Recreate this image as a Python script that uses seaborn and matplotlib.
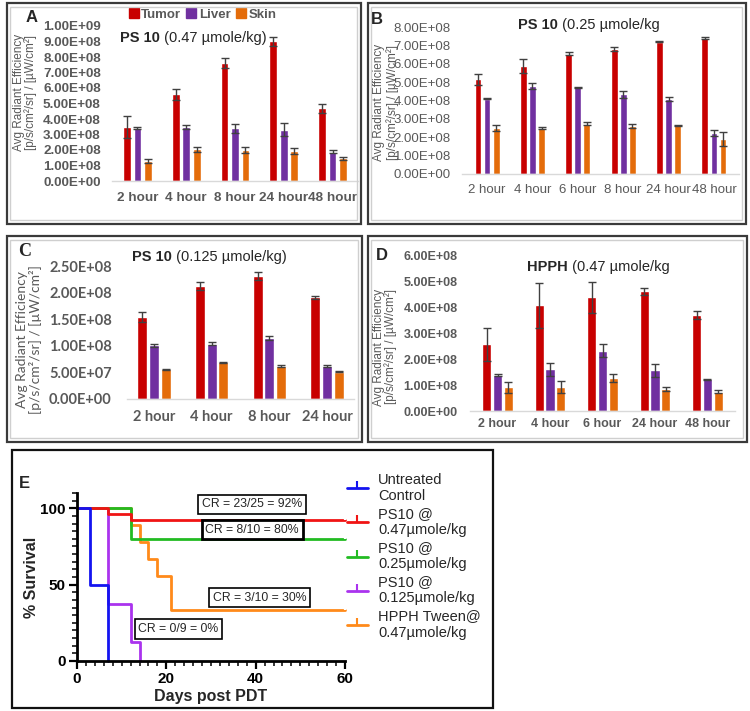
import numpy as np
import pandas as pd
import matplotlib
matplotlib.use("Agg")
import matplotlib.pyplot as plt
from matplotlib.lines import Line2D
from matplotlib.patches import Rectangle
from matplotlib.text import Annotation
from matplotlib.ticker import FuncFormatter, MultipleLocator
import seaborn as sns

sns.set_theme(style="white")
plt.rcParams['font.family'] = ['Liberation Sans', 'DejaVu Sans']

# ---------------- data ----------------
tissues = ["Tumor", "Liver", "Skin"]
tissue_colors = ["#C80000", "#7030A0", "#E46C0A"]

# A: PS 10 (0.47 umole/kg)
hours_a = ["2 hour", "4 hour", "8 hour", "24 hour", "48 hour"]
tumor_a = [3.50e8, 5.60e8, 7.62e8, 9.01e8, 4.68e8]
tumor_a_err = [0.70e8, 0.35e8, 0.32e8, 0.28e8, 0.28e8]
liver_a = [3.43e8, 3.48e8, 3.39e8, 3.30e8, 1.89e8]
liver_a_err = [0.08e8, 0.15e8, 0.30e8, 0.42e8, 0.10e8]
skin_a = [1.29e8, 2.04e8, 2.00e8, 1.91e8, 1.46e8]
skin_a_err = [0.15e8, 0.15e8, 0.20e8, 0.20e8, 0.10e8]

# B: PS 10 (0.25 umole/kg)
hours_b = ["2 hour", "4 hour", "6 hour", "8 hour", "24 hour", "48 hour"]
tumor_b = [5.16e8, 5.88e8, 6.55e8, 6.82e8, 7.20e8, 7.38e8]
tumor_b_err = [0.30e8, 0.36e8, 0.10e8, 0.10e8, 0.03e8, 0.05e8]
liver_b = [4.10e8, 4.80e8, 4.71e8, 4.33e8, 4.10e8, 2.22e8]
liver_b_err = [0.03e8, 0.16e8, 0.05e8, 0.20e8, 0.10e8, 0.15e8]
skin_b = [2.49e8, 2.49e8, 2.73e8, 2.62e8, 2.64e8, 1.90e8]
skin_b_err = [0.15e8, 0.05e8, 0.08e8, 0.10e8, 0.04e8, 0.39e8]

# C: PS 10 (0.125 umole/kg)
hours_c = ["2 hour", "4 hour", "8 hour", "24 hour"]
tumor_c = [1.54e8, 2.125e8, 2.31e8, 1.91e8]
tumor_c_err = [0.09e8, 0.07e8, 0.07e8, 0.03e8]
liver_c = [1.01e8, 1.04e8, 1.15e8, 0.625e8]
liver_c_err = [0.03e8, 0.03e8, 0.04e8, 0.02e8]
skin_c = [0.556e8, 0.69e8, 0.625e8, 0.51e8]
skin_c_err = [0.01e8, 0.01e8, 0.02e8, 0.01e8]

# D: HPPH (0.47 umole/kg)
hours_d = ["2 hour", "4 hour", "6 hour", "24 hour", "48 hour"]
tumor_d = [2.56e8, 4.06e8, 4.37e8, 4.60e8, 3.68e8]
tumor_d_err = [0.63e8, 0.85e8, 0.59e8, 0.15e8, 0.15e8]
liver_d = [1.38e8, 1.60e8, 2.31e8, 1.56e8, 1.22e8]
liver_d_err = [0.05e8, 0.26e8, 0.25e8, 0.24e8, 0.01e8]
skin_d = [0.91e8, 0.94e8, 1.27e8, 0.85e8, 0.74e8]
skin_d_err = [0.22e8, 0.23e8, 0.17e8, 0.07e8, 0.05e8]

# E: survival (Kaplan-Meier steps)
ctrl_days = [0, 3, 7]
ctrl_surv = [100, 50, 0]
ps047_days = [0, 7, 12, 60]
ps047_surv = [100, 96, 92, 92]
ps025_days = [0, 12, 60]
ps025_surv = [100, 80, 80]
ps0125_days = [0, 7, 12, 14]
ps0125_surv = [100, 37.5, 12.5, 0]
hpph_days = [0, 12, 14, 16, 18, 21, 60]
hpph_surv = [100, 88.9, 77.8, 66.7, 55.6, 33.3, 33.3]
surv_labels = ["Untreated\nControl", "PS10 @\n0.47µmole/kg", "PS10 @\n0.25µmole/kg",
               "PS10 @\n0.125µmole/kg", "HPPH Tween@\n0.47µmole/kg"]
surv_colors = ["#1414F0", "#F01414", "#22BB22", "#AA33EE", "#FF8A1A"]

GRAY = "#595959"
W, H = 750, 711


def rect(x0, y0, x1, y1):
    return [x0 / W, 1 - y1 / H, (x1 - x0) / W, (y1 - y0) / H]


def box(fig, x0, y0, x1, y1, color, lw):
    fig.add_artist(Rectangle((x0 / W, 1 - y1 / H), (x1 - x0) / W, (y1 - y0) / H,
                             transform=fig.transFigure, fill=False, ec=color, lw=lw))


def ftext(fig, x, y, s, **kw):
    return fig.text(x / W, 1 - y / H, s, **kw)


def two_part_title(fig, x, y, bold, rest, size=10.5):
    t = ftext(fig, x, y, bold, fontsize=size, fontweight="bold", va="center", ha="left")
    fig.add_artist(Annotation(rest, xy=(1, 0), xycoords=t, va="bottom", ha="left",
                              fontsize=size))


def bar_panel(ax, hours, tumor, liver, skin, errs, ymax, step, width, gap,
              tick_size, tick_bold, xpad, ypad, family=None):
    df = pd.DataFrame({
        "time": hours * 3,
        "tissue": [t for t in tissues for _ in hours],
        "value": tumor + liver + skin,
    })
    sns.barplot(data=df, x="time", y="value", hue="tissue", order=hours,
                hue_order=tissues, palette=tissue_colors, saturation=1,
                width=width, gap=gap, errorbar=None, legend=False, ax=ax)
    for cont, err in zip(ax.containers, errs):
        xs = [p.get_x() + p.get_width() / 2 for p in cont.patches]
        hs = [p.get_height() for p in cont.patches]
        ax.errorbar(xs, hs, yerr=err, fmt="none", ecolor="#404040",
                    elinewidth=1, capsize=3, capthick=1)
    ax.set_ylim(0, ymax)
    ax.set_yticks(np.arange(0, ymax + step / 2, step))
    ax.yaxis.set_major_formatter(FuncFormatter(lambda v, p: f"{v:.2E}"))
    ax.set_xlabel("")
    ax.set_ylabel("")
    for s in ["left", "top", "right"]:
        ax.spines[s].set_visible(False)
    ax.spines["bottom"].set_color("#d9d9d9")
    ax.spines["bottom"].set_linewidth(1)
    ax.tick_params(axis="both", length=0, colors=GRAY, labelsize=tick_size)
    ax.tick_params(axis="x", pad=xpad)
    ax.tick_params(axis="y", pad=ypad)
    for lbl in ax.get_xticklabels() + ax.get_yticklabels():
        if tick_bold:
            lbl.set_fontweight("bold")
        if family:
            lbl.set_family(family)
    ax.set_facecolor("none")


fig = plt.figure(figsize=(7.5, 7.11), dpi=100)

# panel frames
for x0, y0, x1, y1 in [(7, 3, 361, 224), (368, 3, 746, 224),
                       (7, 236, 362, 442), (368, 236, 747, 442)]:
    box(fig, x0, y0, x1, y1, "#3a3a3a", 1.6)
    box(fig, x0 + 3, y0 + 4, x1 - 4, y1 - 4, "#cfcfcf", 1.0)
box(fig, 12, 450, 493, 708, "#111111", 1.6)

# ---- A ----
ax_a = fig.add_axes(rect(112, 26, 358, 181))
bar_panel(ax_a, hours_a, tumor_a, liver_a, skin_a, [tumor_a_err, liver_a_err, skin_a_err],
          1e9, 1e8, 0.64, 0.25, 9.7, True, 8, 8)
handles = [Line2D([], [], marker="s", ls="none", color=c, markersize=7, label=l)
           for c, l in zip(tissue_colors, tissues)]
ax_a.legend(handles=handles, ncol=3, loc="center", bbox_to_anchor=(0.37, 1.071),
            frameon=False, handlelength=0.6, handletextpad=0.25, columnspacing=0.5,
            borderpad=0, prop={"weight": "bold", "size": 9.5}, labelcolor=GRAY)
ftext(fig, 32, 17, "A", fontsize=12, fontweight="bold", ha="center", va="center")
two_part_title(fig, 120, 38, "PS 10", " (0.47 µmole/kg)")
ftext(fig, 25, 92, "Avg Radiant Efficiency\n[p/s/cm²/sr] / [µW/cm²]", fontsize=8.5,
      color=GRAY, rotation=90, ha="center", va="center", linespacing=1.0)

# ---- B ----
ax_b = fig.add_axes(rect(462, 27, 739, 174))
bar_panel(ax_b, hours_b, tumor_b, liver_b, skin_b, [tumor_b_err, liver_b_err, skin_b_err],
          8e8, 1e8, 0.6, 0.25, 9.5, False, 7, 8)
ftext(fig, 377, 20, "B", fontsize=12, fontweight="bold", ha="center", va="center")
two_part_title(fig, 518, 25, "PS 10", " (0.25 µmole/kg")
ftext(fig, 386, 102, "Avg Radiant Efficiency\n[p/s/cm²/sr] / [µW/cm²]", fontsize=8.5,
      color=GRAY, rotation=90, ha="center", va="center", linespacing=1.1)

# ---- C ----
ax_c = fig.add_axes(rect(127, 266, 354, 399))
bar_panel(ax_c, hours_c, tumor_c, liver_c, skin_c, [tumor_c_err, liver_c_err, skin_c_err],
          2.5e8, 5e7, 0.61, 0.15, 10.5, True, 8, 11, family="Lato")
ftext(fig, 25, 252, "C", fontsize=13, fontweight="bold", family="Liberation Serif",
      ha="center", va="center")
two_part_title(fig, 132, 257, "PS 10", " (0.125 µmole/kg)")
ftext(fig, 29, 340, "Avg Radiant Efficiency\n[p/s/cm²/sr] / [µW/cm²]", fontsize=10,
      family="Lato", color=GRAY, rotation=90, ha="center", va="center", linespacing=1.05)

# ---- D ----
ax_d = fig.add_axes(rect(470, 255, 735, 411))
bar_panel(ax_d, hours_d, tumor_d, liver_d, skin_d, [tumor_d_err, liver_d_err, skin_d_err],
          6e8, 1e8, 0.62, 0.15, 9, True, 5, 9)
ftext(fig, 382, 255, "D", fontsize=12, fontweight="bold", ha="center", va="center")
two_part_title(fig, 527, 267, "HPPH", " (0.47 µmole/kg")
ftext(fig, 385, 347, "Avg Radiant Efficiency\n[p/s/cm²/sr] / [µW/cm²]", fontsize=8.5,
      color=GRAY, rotation=90, ha="center", va="center", linespacing=1.0)

# ---- E ----
ax_e = fig.add_axes(rect(77, 493, 345, 661))
groups = [(hpph_days, hpph_surv, 4, True), (ps0125_days, ps0125_surv, 3, False),
          (ps025_days, ps025_surv, 2, True), (ps047_days, ps047_surv, 1, True),
          (ctrl_days, ctrl_surv, 0, False)]
for days, surv, ci, censored in groups:
    kw = {}
    if censored:
        kw = dict(marker=2, markevery=[len(days) - 1], markersize=6, mew=1.6)
    sns.lineplot(x=days, y=surv, drawstyle="steps-post", color=surv_colors[ci], lw=2,
                 estimator=None, ax=ax_e, clip_on=False, **kw)
ax_e.set_xlim(0, 60)
ax_e.set_ylim(0, 110)
ax_e.set_xticks([0, 20, 40, 60])
ax_e.set_yticks([0, 50, 100])
ax_e.xaxis.set_minor_locator(MultipleLocator(2))
ax_e.yaxis.set_minor_locator(MultipleLocator(5))
for s in ["top", "right"]:
    ax_e.spines[s].set_visible(False)
for s in ["left", "bottom"]:
    ax_e.spines[s].set_linewidth(2)
    ax_e.spines[s].set_color("black")
ax_e.tick_params(which="major", direction="out", length=6, width=1.6, labelsize=11,
                 colors="black", bottom=True, left=True, pad=2)
ax_e.tick_params(which="minor", direction="out", length=3.5, width=1.3,
                 bottom=True, left=True)
for lbl in ax_e.get_xticklabels() + ax_e.get_yticklabels():
    lbl.set_fontweight("bold")
ax_e.set_xlabel("")
ax_e.set_ylabel("")
ax_e.set_facecolor("none")

for x, y, s, lw in [(39.2, 102.6, "CR = 23/25 = 92%", 1.2), (39.2, 86, "CR = 8/10 = 80%", 2.0),
                    (40.9, 41.4, "CR = 3/10 = 30%", 1.2), (22.7, 21, "CR = 0/9 = 0%", 1.2)]:
    ax_e.text(x, y, s, fontsize=8.8, ha="center", va="center", zorder=5,
              bbox=dict(boxstyle="square,pad=0.3", fc="white", ec="black", lw=lw))

leg_handles = [Line2D([], [], color=c, lw=2, marker=2, markersize=5, mew=1.5)
               for c in surv_colors]
ax_e.legend(leg_handles, surv_labels, loc="upper left", bbox_to_anchor=(1.007, 1.12),
            frameon=False, fontsize=10.5, handlelength=1.45, handletextpad=0.7,
            labelspacing=0.27, borderpad=0, borderaxespad=0, numpoints=1)

ftext(fig, 24, 483, "E", fontsize=12, fontweight="bold", ha="center", va="center")
ftext(fig, 32, 577, "% Survival", fontsize=11.5, fontweight="bold", rotation=90,
      ha="center", va="center")
ftext(fig, 211, 697, "Days post PDT", fontsize=11.5, fontweight="bold",
      ha="center", va="center")

fig.savefig("out.png", dpi=100)
